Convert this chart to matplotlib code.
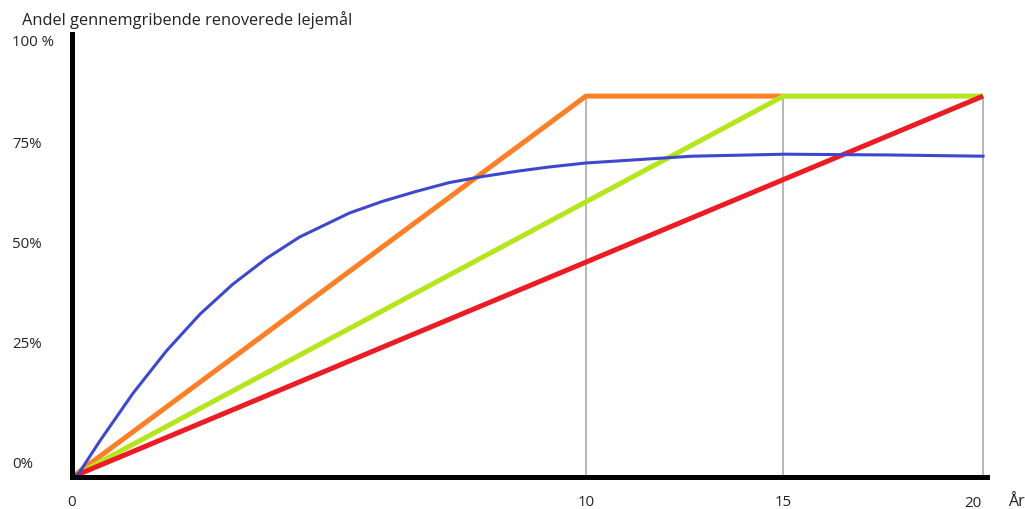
import numpy as np
import matplotlib
matplotlib.use("Agg")
import matplotlib.pyplot as plt
from matplotlib.transforms import ScaledTranslation

# years on the x axis, share (%) on the y axis
orange_x = [0, 10, 15]
orange_y = [0, 86, 86]
green_x = [0, 15, 20]
green_y = [0, 86, 86]
red_x = [0, 20]
red_y = [0, 86]
blue_x = [0.1, 0.54, 1.18, 1.84, 2.49, 3.13, 3.79, 4.43, 5.40, 6.04, 6.70,
          7.34, 7.98, 8.64, 9.28, 10, 12.68, 15.04, 17.7, 20]
blue_y = [0.2, 6.6, 15.3, 23.2, 31.7, 39.2, 45.7, 51.0, 57.0, 59.9, 62.4,
          64.6, 66.1, 67.4, 68.5, 69.5, 71.2, 71.7, 71.5, 71.2]
guide_years = [10, 15, 20]

x_ticks = [0, 10, 15, 20]
x_labels = ['0', '10', '15', '20']
y_ticks = [0, 25, 50, 75, 100]
y_labels = ['0%', '25%', '50%', '75%', '100 %']

# the drawing is not to scale, so both axes are piecewise linear
xs_data = [0, 10, 15, 20, 30]
xs_pix = [0, 515, 713, 913, 1713]
ys_data = [0, 25, 50, 75, 100, 120]
ys_pix = [0, 136, 236, 336, 438, 520]


def fx(v):
    return np.interp(v, xs_data, xs_pix)


def fx_inv(v):
    return np.interp(v, xs_pix, xs_data)


def fy(v):
    return np.interp(v, ys_data, ys_pix)


def fy_inv(v):
    return np.interp(v, ys_pix, ys_data)


fig = plt.figure(figsize=(10.25, 5.1), dpi=100)
W, H = 1025, 510
ax = fig.add_axes([72 / W, (H - 478) / H, (987 - 72) / W, (478 - 35) / H])
ax.set_xscale('function', functions=(fx, fx_inv))
ax.set_yscale('function', functions=(fy, fy_inv))
ax.set_xlim(0, 20.05)
ax.set_ylim(0, fy_inv(443))

ax.vlines(guide_years, 0, 86, color='#aaaaaa', lw=1.2, zorder=1)
ax.plot(orange_x, orange_y, color='#ff7f27', lw=3.6, zorder=2,
        solid_capstyle='butt')
ax.plot(green_x, green_y, color='#b5e61d', lw=3.6, zorder=3,
        solid_capstyle='butt')
ax.plot(red_x, red_y, color='#ed1c24', lw=3.6, zorder=4,
        solid_capstyle='butt')
ax.plot(blue_x, blue_y, color='#3f48cc', lw=2.2, zorder=5)

for s in ['top', 'right']:
    ax.spines[s].set_visible(False)
for s in ['left', 'bottom']:
    ax.spines[s].set_linewidth(3.6)
    ax.spines[s].set_capstyle('projecting')
    ax.spines[s].set_zorder(6)

font = ['Open Sans', 'DejaVu Sans']
ax.set_xticks(x_ticks)
ax.set_xticklabels(x_labels, family=font, fontsize=10.8, color='#222222')
ax.set_yticks(y_ticks)
ax.set_yticklabels(y_labels, family=font, fontsize=10.8, color='#222222',
                   ha='left')
ax.tick_params(axis='x', length=0, pad=12)
ax.tick_params(axis='y', length=0, pad=43)
ax.minorticks_off()

# nudge a few labels like in the original drawing
xl = ax.get_xticklabels()
xl[3].set_transform(xl[3].get_transform() +
                    ScaledTranslation(-10 / 100, -1 / 100,
                                      fig.dpi_scale_trans))
yl = ax.get_yticklabels()
yl[0].set_transform(yl[0].get_transform() +
                    ScaledTranslation(0, 15 / 100, fig.dpi_scale_trans))

fig.text(22 / W, 1 - 20 / H, 'Andel gennemgribende renoverede lejemål',
         family=font, fontsize=11.8, color='#222222', ha='left', va='center')
fig.text(1008 / W, 1 - 502 / H, 'År', family=font, fontsize=11.5,
         color='#222222', ha='left', va='center')

fig.savefig('out.png', dpi=100)
